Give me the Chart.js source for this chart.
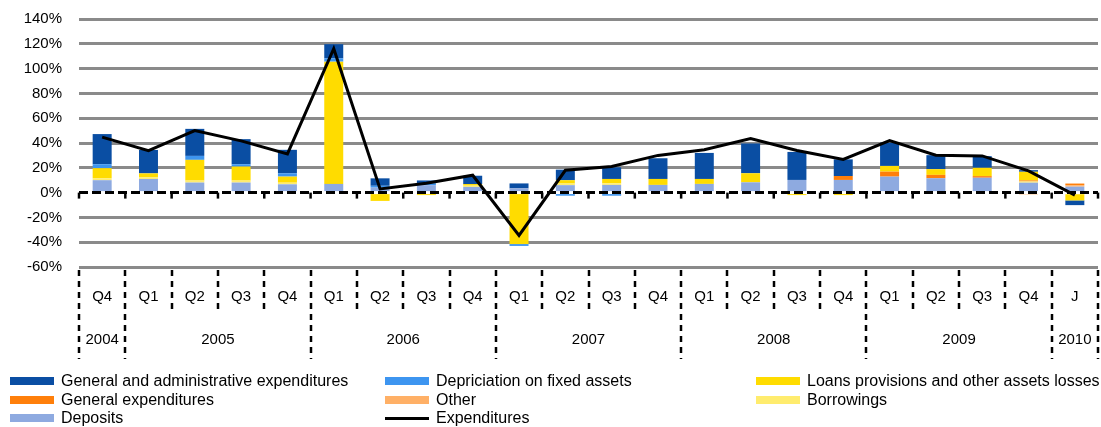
<!DOCTYPE html>
<html>
<head>
<meta charset="utf-8">
<script src="https://cdn.jsdelivr.net/npm/chart.js@4.4.1/dist/chart.umd.min.js"></script>
<style>
  html, body { margin: 0; padding: 0; background: #fff; }
  #wrap { position: relative; width: 1101px; height: 427px; font-family: "Liberation Sans", Arial, sans-serif; }
  #chart { position: absolute; left: 0; top: 0; }
  .lg { position: absolute; height: 18px; font-size: 16px; line-height: 18px; color: #000; white-space: nowrap; }
  .lg i { position: absolute; left: 0; top: 5px; width: 44px; height: 8px; }
  .lg i.ln { top: 8px; height: 3px; }
  .lg span { position: absolute; left: 51px; top: 0; }
</style>
</head>
<body>
<div id="wrap">
  <canvas id="chart" width="1101" height="427"></canvas>
  <div id="legend"></div>
</div>
<script>
// ── Data (values in %) ───────────────────────────────────────────────────
const categories = ["Q4", "Q1", "Q2", "Q3", "Q4", "Q1", "Q2", "Q3", "Q4", "Q1", "Q2",
                    "Q3", "Q4", "Q1", "Q2", "Q3", "Q4", "Q1", "Q2", "Q3", "Q4", "J"];
const yearOf = ["2004", "2005", "2005", "2005", "2005", "2006", "2006", "2006", "2006",
                "2007", "2007", "2007", "2007", "2008", "2008", "2008", "2008",
                "2009", "2009", "2009", "2009", "2010"];
const yTicks = [-60, -40, -20, 0, 20, 40, 60, 80, 100, 120, 140];

const deposits     = [10, 11, 8.1, 8.1, 6.7, 7, 4, 6, 4.6, 3.4, 6, 6.2, 6.2, 7, 8.3, 10.2, 10.2, 12.9, 11.6, 12, 8, 4.8];
const borrowings   = [1.6, 1.3, 1.6, 1.6, 1.3, 0, 0, 0, 1, 0, 1.3, 1.3, 0, -1.2, -1.2, 0, 0, 0, 0, 0, 1, -1.3];
const other        = [0, 0, 0, 0, 0, 0, 0, 0, 0, 0, 0, 0, 0, 0, 0, 0, 0, 0, 0, 0, -1.5, 1.2];
const generalExp   = [0, 0, 0, 0, 0, 0, 0, 0, 0, 0, 0, 0, 0, 0, 0, 0, 3.2, 4, 2.7, 1.3, 0.8, 1.3];
const loans        = [8.1, 3.2, 16.7, 11.3, 4.9, 98.6, -6.7, -2, 1.3, -41.5, 2.7, 3.5, 4.8, 4, 7.3, -2, -2, 4.6, 4.6, 6.7, 7, -5];
const depreciation = [3.2, 0, 3.2, 1.9, 2.7, 2.7, 1.5, 1.6, 0, -1.5, -2.5, -2.5, 0, 0, 0, 0, 0, 0, 0, 0, 0, 0];
const gaExp        = [24.3, 18.9, 21.8, 20.2, 18.9, 11.4, 6, 2.2, 6.7, 4, 8.5, 9.4, 16.7, 21, 24, 22.6, 13.4, 18.8, 11.3, 9.4, 1.3, -3.8];
const expenditures = [44.7, 33.8, 50, 41.7, 31.2, 116, 3, 7.5, 14, -34.5, 18, 21, 30, 34.5, 43.5, 34, 26.7, 42, 30.2, 29.6, 17.5, -2];

const FONT = "'Liberation Sans', Arial, sans-serif";
Chart.defaults.font.family = FONT;
Chart.defaults.font.size = 15;
Chart.defaults.color = "#000";

// bottom of stack first, as in the original workbook
const barSeries = [
  { label: "Deposits", data: deposits, color: "#8eaae0" },
  { label: "Borrowings", data: borrowings, color: "#ffec6e" },
  { label: "Other", data: other, color: "#ffb066" },
  { label: "General expenditures", data: generalExp, color: "#ff7f0a" },
  { label: "Loans provisions and other assets losses", data: loans, color: "#ffdc00" },
  { label: "Depriciation on fixed assets", data: depreciation, color: "#3d95f0" },
  { label: "General and administrative expenditures", data: gaExp, color: "#0a4ea3" },
];

const datasets = barSeries.map(s => ({
  type: "bar",
  label: s.label,
  data: s.data,
  backgroundColor: s.color,
  stack: "bars",
  order: 1,
  categoryPercentage: 1,
  barPercentage: 0.41,
}));
datasets.push({
  type: "line",
  label: "Expenditures",
  data: expenditures,
  borderColor: "#000",
  borderWidth: 3,
  pointRadius: 0,
  tension: 0,
  stack: "line",
  order: 0,
});

// ── Legend (HTML, Excel row-wise order) ──────────────────────────────────
const legendOrder = [
  ["General and administrative expenditures", "Depriciation on fixed assets", "Loans provisions and other assets losses"],
  ["General expenditures", "Other", "Borrowings"],
  ["Deposits", "Expenditures"],
];
const colX = [10, 385, 756];
const rowY = [372, 391, 409];
const legendEl = document.getElementById("legend");
legendOrder.forEach((row, r) => row.forEach((name, c) => {
  const s = barSeries.find(b => b.label === name);
  const item = document.createElement("div");
  item.className = "lg";
  item.style.left = colX[c] + "px";
  item.style.top = rowY[r] + "px";
  const sw = document.createElement("i");
  if (s) sw.style.background = s.color;
  else { sw.className = "ln"; sw.style.background = "#000"; }
  const tx = document.createElement("span");
  tx.textContent = name;
  item.appendChild(sw);
  item.appendChild(tx);
  legendEl.appendChild(item);
}));

// ── Zero line, category separators and year row ──────────────────────────
const decor = {
  id: "decor",
  beforeDatasetDraw(chart, args) {
    if (args.meta.type !== "line") return;
    const { ctx, chartArea: a, scales: { x, y } } = chart;
    const y0 = y.getPixelForValue(0);
    const half = (x.getPixelForValue(1) - x.getPixelForValue(0)) / 2;
    ctx.save();
    ctx.strokeStyle = "#000";
    ctx.lineWidth = 3;
    ctx.setLineDash([9, 4]);
    ctx.beginPath();
    ctx.moveTo(a.left, y0);
    ctx.lineTo(a.right, y0);
    ctx.stroke();
    ctx.setLineDash([]);
    ctx.lineWidth = 2.5;
    for (let i = 0; i <= categories.length; i++) {
      const bx = x.getPixelForValue(i) - half;
      ctx.beginPath();
      ctx.moveTo(bx, y0);
      ctx.lineTo(bx, y0 + 6);
      ctx.stroke();
    }
    ctx.restore();
  },
  afterDraw(chart) {
    const { ctx, chartArea: a, scales: { x } } = chart;
    const half = (x.getPixelForValue(1) - x.getPixelForValue(0)) / 2;
    ctx.save();
    ctx.strokeStyle = "#000";
    ctx.lineWidth = 2.5;
    ctx.setLineDash([6, 5]);
    for (let i = 0; i <= categories.length; i++) {
      const bx = Math.round(x.getPixelForValue(Math.min(i, categories.length - 1)) + (i === categories.length ? half : -half));
      const yearEdge = i === 0 || i === categories.length || yearOf[i] !== yearOf[i - 1];
      ctx.beginPath();
      ctx.moveTo(bx, a.bottom + 3);
      ctx.lineTo(bx, yearEdge ? a.bottom + 92 : a.bottom + 44);
      ctx.stroke();
    }
    ctx.setLineDash([]);
    ctx.fillStyle = "#000";
    ctx.font = "15px " + FONT;
    ctx.textAlign = "center";
    ctx.textBaseline = "middle";
    let start = 0;
    for (let i = 1; i <= yearOf.length; i++) {
      if (i === yearOf.length || yearOf[i] !== yearOf[start]) {
        const cx = (x.getPixelForValue(start) + x.getPixelForValue(i - 1)) / 2;
        ctx.fillText(yearOf[start], cx, a.bottom + 73);
        start = i;
      }
    }
    ctx.restore();
  },
};

new Chart(document.getElementById("chart"), {
  data: { labels: categories, datasets },
  plugins: [decor],
  options: {
    responsive: false,
    animation: false,
    devicePixelRatio: 1,
    layout: { padding: { top: 19, right: 3, left: 0, bottom: 0 } },
    plugins: { legend: { display: false }, tooltip: { enabled: false } },
    scales: {
      x: {
        stacked: true,
        grid: { display: false, drawTicks: false },
        border: { display: false },
        ticks: { autoSkip: false, maxRotation: 0, padding: 21 },
        afterFit: s => { s.height = 160; },
      },
      y: {
        stacked: true,
        min: -60,
        max: 140,
        afterBuildTicks: s => { s.ticks = yTicks.map(v => ({ value: v })); },
        ticks: { padding: 17, callback: v => v + "%" },
        grid: {
          drawTicks: false,
          lineWidth: 3,
          color: c => (c.tick && c.tick.value === 0 ? "rgba(0,0,0,0)" : "#8a8a8a"),
        },
        border: { display: false },
        afterFit: s => { s.width = 79; s.paddingTop = 0; s.paddingBottom = 0; },
      },
    },
  },
});
</script>
</body>
</html>
